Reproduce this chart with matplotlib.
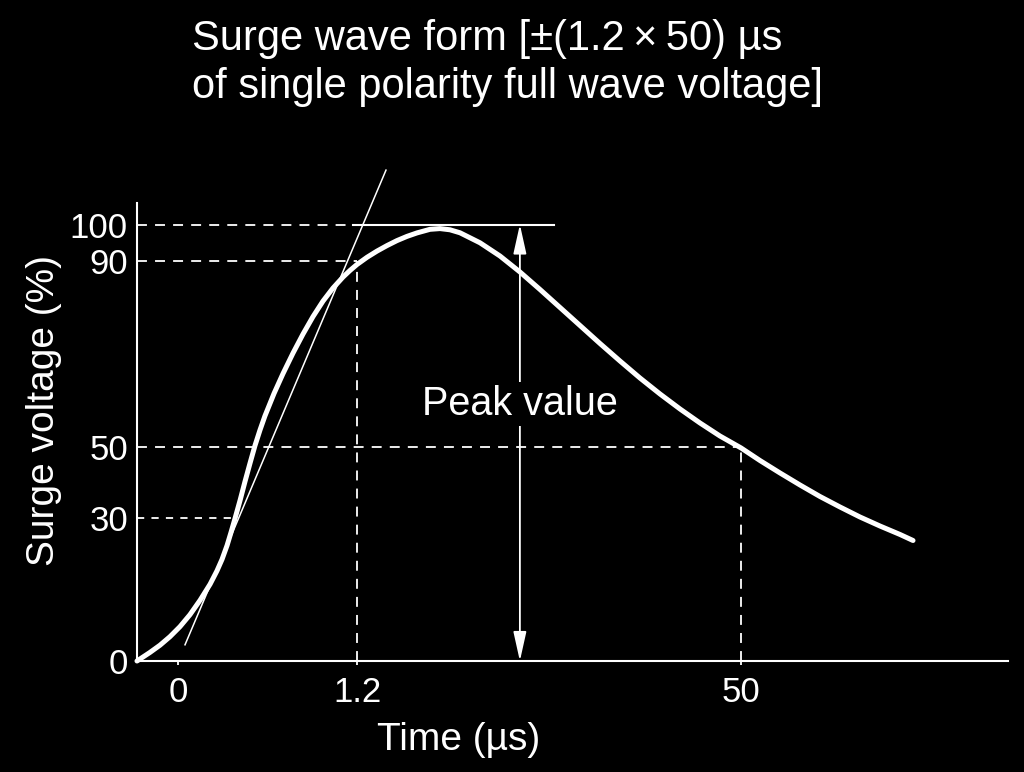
import numpy as np
import matplotlib
matplotlib.use('Agg')
import matplotlib.pyplot as plt

plt.rcParams['font.family'] = ['Liberation Sans', 'DejaVu Sans']

# Surge wave: time in us, voltage in % of peak
time_us = [-0.275, -0.188, -0.121, -0.054, 0.013, 0.080, 0.148, 0.215,
           0.261, 0.295, 0.329, 0.355, 0.382, 0.416, 0.449, 0.483, 0.516,
           0.550, 0.583, 0.644, 0.704, 0.771, 0.838, 0.905, 0.972, 1.039,
           1.106, 1.153, 1.2, 2.47, 3.74, 5.01, 6.28, 7.55, 8.83, 10.48,
           11.75, 13.02, 14.29, 16.83, 19.37, 21.91, 24.46, 27.0, 29.54,
           32.08, 34.62, 37.16, 39.71, 42.25, 44.79, 47.33, 50.0, 52.41,
           54.96, 57.50, 60.04, 62.58, 65.12, 67.66, 70.21, 71.86]
surge_pct = [0.0, 1.80, 3.31, 5.10, 7.20, 9.71, 12.75, 16.11,
             18.90, 21.31, 24.25, 26.94, 29.87, 34.92, 40.18, 45.36, 50.19,
             53.58, 56.60, 61.45, 65.72, 70.14, 74.24, 78.01, 81.35, 84.16,
             86.53, 87.96, 89.25, 91.01, 92.71, 94.22, 95.59, 96.74, 97.70, 98.68,
             98.88, 98.55, 97.73, 94.99, 91.37, 87.63, 83.85, 79.97, 76.09,
             72.21, 68.44, 64.77, 61.32, 58.09, 55.07, 52.26, 49.6, 46.08,
             42.59, 39.23, 36.01, 33.08, 30.28, 28.32, 26.54, 25.28]

x_ticks = [0, 1.2, 50]
x_ticklabels = ['0', '1.2', '50']
y_ticks = [0, 30, 50, 90, 100]
y_ticklabels = ['0', '30', '50', '90', '100']

# reference marks
t_30 = 0.38           # curve crosses 30 %
t_front = 1.2         # front time
t_tail = 50           # time to half value
t_peak_start = 1.17   # solid peak line start
t_peak_end = 26.2     # solid peak line end
t_arrow = 21.9        # "Peak value" arrow
tangent_t = [0.047, 4.885]
tangent_v = [3.4, 114.9]

# the drawing is schematic: where each value sits on the page (pixels)
X_ANCHOR = [0, 1.2, 50]
X_PIX = [178, 357, 741]
Y_ANCHOR = [0, 30, 50, 90, 100]
Y_PIX = [661, 518, 446.5, 261, 224.5]


def piecewise(v, xp, fp):
    v = np.asarray(v, dtype=float)
    out = np.interp(v, xp, fp)
    s0 = (fp[1] - fp[0]) / (xp[1] - xp[0])
    s1 = (fp[-1] - fp[-2]) / (xp[-1] - xp[-2])
    out = np.where(v < xp[0], fp[0] + (v - xp[0]) * s0, out)
    out = np.where(v > xp[-1], fp[-1] + (v - xp[-1]) * s1, out)
    return out


ypos = [-p for p in Y_PIX]
fx = lambda t: piecewise(t, X_ANCHOR, X_PIX)
ix = lambda p: piecewise(p, X_PIX, X_ANCHOR)
fy = lambda v: piecewise(v, Y_ANCHOR, ypos)
iy = lambda p: piecewise(p, ypos, Y_ANCHOR)

W, H = 1024, 772
fig = plt.figure(figsize=(W / 100, H / 100), dpi=100, facecolor='black')
ax = fig.add_axes([137 / W, 1 - 661 / H, (1008 - 137) / W, (661 - 203) / H])
ax.set_facecolor('black')
ax.set_xscale('function', functions=(fx, ix))
ax.set_yscale('function', functions=(fy, iy))
x0, x1 = float(ix(137)), float(ix(1008))
ax.set_xlim(x0, x1)
ax.set_ylim(float(iy(-661)), float(iy(-203)))

dash = (0, (5.5, 4.5))
lw_thin = 1.3
# dashed guides
ax.plot([x0, t_peak_start], [100, 100], ls=dash, lw=lw_thin, color='white')
ax.plot([x0, t_front], [90, 90], ls=dash, lw=lw_thin, color='white')
ax.plot([x0, t_tail], [50, 50], ls=dash, lw=lw_thin, color='white')
ax.plot([x0, t_30], [30, 30], ls=(0, (4, 4)), lw=lw_thin, color='white')
ax.plot([t_front, t_front], [0, 90], ls=dash, lw=lw_thin, color='white')
ax.plot([t_tail, t_tail], [0, 50], ls=dash, lw=lw_thin, color='white')

# peak line and tangent
ax.plot([t_peak_start, t_peak_end], [100, 100], lw=1.5, color='white')
ax.plot(tangent_t, tangent_v, lw=1.1, color='white', clip_on=False)

# wave
ax.plot(time_us, surge_pct, color='white', lw=3.6, solid_joinstyle='round',
        solid_capstyle='round', clip_on=False, zorder=4)

# peak value arrow
ax.annotate('', xy=(t_arrow, 100), xytext=(t_arrow, 0),
            arrowprops=dict(arrowstyle='<|-|>, head_length=0.45, head_width=0.1',
                            mutation_scale=40, lw=1.3, color='white',
                            shrinkA=0, shrinkB=0), zorder=2)
ax.text(t_arrow, 59.2, 'Peak value', ha='center', va='center', fontsize=28.5,
        color='white', zorder=5,
        bbox=dict(facecolor='black', edgecolor='none', pad=2))

# axes styling
for side in ['top', 'right']:
    ax.spines[side].set_visible(False)
for side in ['left', 'bottom']:
    ax.spines[side].set_color('white')
    ax.spines[side].set_linewidth(1.5)

ax.set_xticks(x_ticks)
ax.set_xticklabels(x_ticklabels)
ax.set_yticks(y_ticks)
ax.set_yticklabels(y_ticklabels)
ax.minorticks_off()
ax.tick_params(axis='x', length=3, width=1.3, pad=8, labelsize=25,
               colors='white', direction='out')
ax.tick_params(axis='y', length=0, pad=6.5, labelsize=25, colors='white')

ax.set_xlabel('Time (µs)', fontsize=28, color='white')
ax.xaxis.set_label_coords(0.369, -0.133)
ax.set_ylabel('Surge voltage (%)', fontsize=28, color='white')
ax.yaxis.set_label_coords(-0.086, 0.546)

fig.text(192 / W, 1 - 50 / H, 'Surge wave form [±(1.2\u2009×\u200950) µs',
         fontsize=30, color='white', ha='left', va='baseline')
fig.text(192 / W, 1 - 98 / H, 'of single polarity full wave voltage]',
         fontsize=30, color='white', ha='left', va='baseline')

fig.savefig('out.png', dpi=100, facecolor='black')
